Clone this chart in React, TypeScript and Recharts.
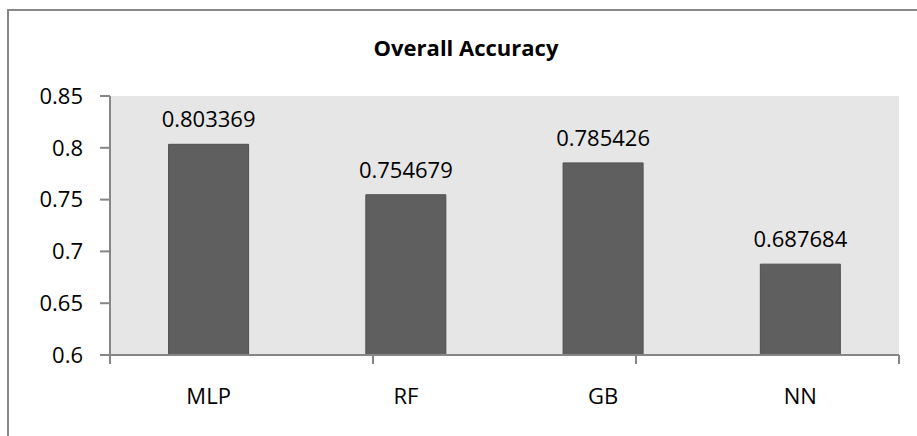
import React from 'react';
import { BarChart, Bar, XAxis, YAxis, CartesianGrid, LabelList } from 'recharts';

// Overall accuracy per model
const models = ['MLP', 'RF', 'GB', 'NN'];
const accuracy = [0.803369, 0.754679, 0.785426, 0.687684];
const yTicks = [0.6, 0.65, 0.7, 0.75, 0.8, 0.85];
const categoryEdges = [0, 1, 2, 3, 4];

const data = models.map((name, i) => ({ name, value: accuracy[i] }));

const FONT = '"Open Sans", sans-serif';
const AXIS_COLOR = '#868686';
const axisStroke = { stroke: AXIS_COLOR, strokeWidth: 2 };

export default function App() {
  return (
    <div style={{ position: 'fixed', left: 0, top: 0, width: 917, height: 436, overflow: 'hidden', background: '#fff' }}>
      <div
        style={{
          position: 'absolute',
          left: 7,
          top: 9,
          width: 916,
          height: 440,
          border: '2px solid #888888',
          fontFamily: FONT,
        }}
      >
        <div
          style={{
            position: 'absolute',
            left: 0,
            top: 21,
            width: 914,
            textAlign: 'center',
            fontSize: 22,
            fontWeight: 700,
            color: '#000',
          }}
        >
          Overall Accuracy
        </div>
        <BarChart
          width={918}
          height={430}
          data={data}
          margin={{ top: 85, right: 28, left: 0, bottom: 36 }}
          barCategoryGap="29.7%"
          style={{ fontFamily: FONT }}
        >
          <CartesianGrid fill="#e6e6e6" stroke="none" horizontal={false} vertical={false} />
          {/* category boundaries: axis line plus tick marks between categories */}
          <XAxis
            xAxisId={0}
            type="number"
            domain={[0, 4]}
            ticks={categoryEdges}
            height={1}
            tickFormatter={() => ''}
            tickSize={9}
            tickMargin={0}
            axisLine={axisStroke}
            tickLine={axisStroke}
            allowDataOverflow
          />
          <XAxis
            xAxisId={1}
            dataKey="name"
            height={49}
            axisLine={false}
            tickLine={false}
            tickSize={0}
            tickMargin={32}
            tick={{ fill: '#000', fontSize: 22 }}
          />
          <YAxis
            width={101}
            domain={[0.6, 0.85]}
            ticks={yTicks}
            allowDataOverflow
            tickSize={10}
            tickMargin={17}
            axisLine={axisStroke}
            tickLine={axisStroke}
            tick={{ fill: '#000', fontSize: 22 }}
          />
          <Bar
            xAxisId={1}
            dataKey="value"
            fill="#5f5f5f"
            stroke="#4f4f4f"
            strokeWidth={1}
            isAnimationActive={false}
          >
            <LabelList dataKey="value" position="top" offset={17} fill="#000" fontSize={22} />
          </Bar>
        </BarChart>
      </div>
    </div>
  );
}
